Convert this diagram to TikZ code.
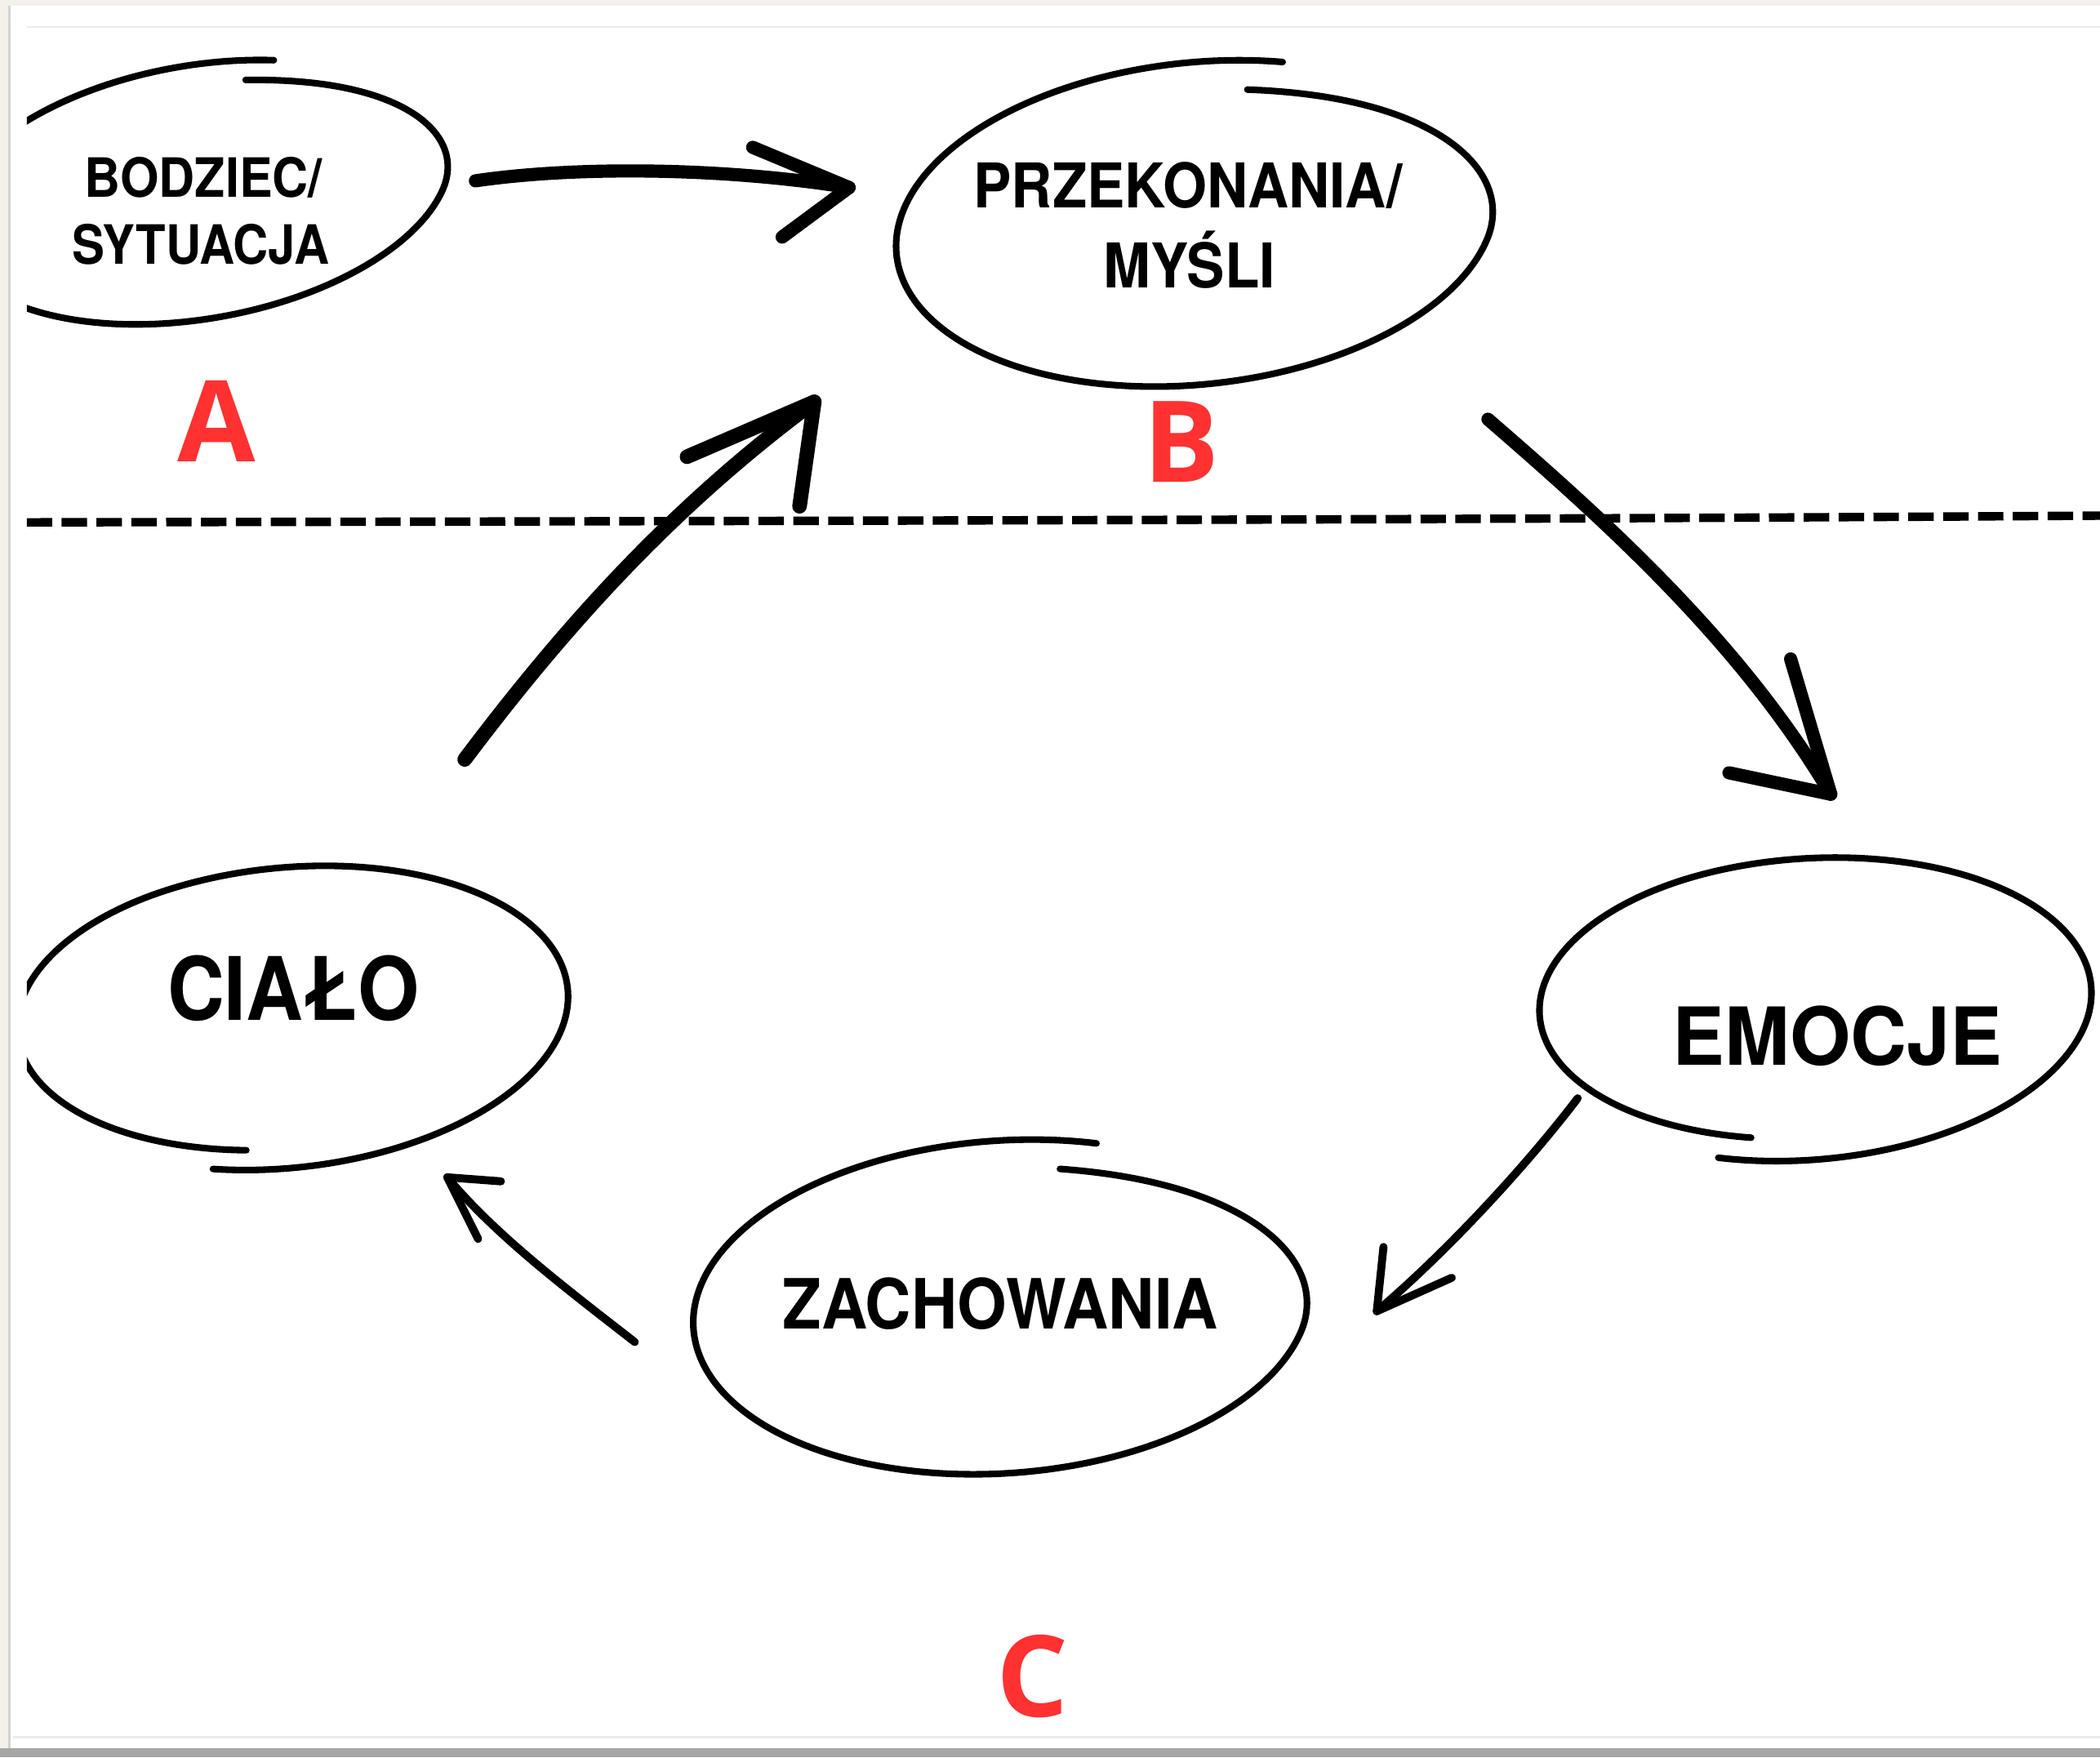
\documentclass[tikz,border=0pt]{standalone}
\usepackage{fontspec}
\newfontfamily\dinf{TeX Gyre Heros}[FakeStretch=0.92]
\newfontfamily\redf{Open Sans}
\usetikzlibrary{calc}
\definecolor{redc}{RGB}{255,49,49}
\definecolor{paper}{RGB}{244,241,234}

% hand-drawn loop: cx, cy, rx, ry, rotation, t0, t1, f0, f1
\newcommand{\handell}[9]{%
  \begin{scope}[declare function={
      hs(\u)=(min(1,max(0,\u)))^2*(3-2*min(1,max(0,\u)));
      ff(\s)=1+((#8)-1)*(1-hs(\s/0.25))+((#9)-1)*hs((\s-0.6)/0.4);
      tt(\s)=(#6)+\s*((#7)-(#6));}]
    \draw[ellstroke] plot[domain=0:1, samples=240, smooth, variable=\s]
      ({#1+(#3)*ff(\s)*cos(tt(\s))*cos(#5)-(#4)*ff(\s)*sin(tt(\s))*sin(#5)},
       {#2-(#3)*ff(\s)*cos(tt(\s))*sin(#5)-(#4)*ff(\s)*sin(tt(\s))*cos(#5)});
  \end{scope}}

\tikzset{
  ellstroke/.style={line width=1.4pt, line cap=round, line join=round},
  lbl/.style={anchor=base, inner sep=0pt},
  redlbl/.style={anchor=base, inner sep=0pt, text=redc, font=\redf\bfseries\fontsize{24}{24}\selectfont},
  thickarrow/.style={line width=2.8pt, line cap=round, line join=round},
  thinarrow/.style={line width=1.7pt, line cap=round, line join=round},
  dashline/.style={line width=1.8pt, dash pattern=on 0.19cm off 0.07cm},
}

\begin{document}
\begin{tikzpicture}[x=0.01cm, y=-0.01cm]
\useasboundingbox (0,0) rectangle (1568,1312);
% page frame
\fill[paper] (0,0) rectangle (1568,1312);
\fill[white] (7,4) rectangle (1568,1305);
\fill[gray!70] (0,1305) rectangle (1568,1312);
\draw[gray!35, line width=0.6pt] (7,4) -- (7,1305);
\draw[black!8, line width=0.4pt] (20,20) -- (1568,20);
\draw[black!8, line width=0.4pt] (10,1297) -- (1568,1297);

% dashed separator
\coordinate (dl) at (20,390);
\coordinate (dr) at (1568,385);
\draw[dashline] (dl) .. controls (600,389) and (1100,388) .. (dr);

% hand-drawn ellipses
\begin{scope}
  \clip (20,0) rectangle (1568,1312);
  \handell{148}{143}{190}{95}{10}{72}{-293}{0.84}{0.99}
  \handell{893}{168}{224}{119}{6}{75}{-290}{0.84}{1.02}
  \handell{1350}{752}{212}{111}{4}{-110}{255}{1.03}{0.88}
  \handell{748}{977}{230}{123}{4}{75}{-290}{0.85}{1.02}
  \handell{213}{760}{212}{112}{6}{-108}{258}{1.0}{0.87}
\end{scope}

% texts
\node[lbl, font=\dinf\bfseries\fontsize{11.5}{11.5}\selectfont] (bod1) at (152,147) {BODZIEC/};
\node[lbl, font=\dinf\bfseries\fontsize{11.5}{11.5}\selectfont] (bod2) at (150,197) {\scalebox{0.98}[1]{SYTUACJA}};
\node[lbl, font=\dinf\bfseries\fontsize{13.1}{13.1}\selectfont] (prz1) at (887,155) {PRZEKONANIA/};
\node[lbl, font=\dinf\bfseries\fontsize{13.1}{13.1}\selectfont] (prz2) at (888,215) {MYŚLI};
\node[lbl, font=\dinf\bfseries\fontsize{17}{17}\selectfont] (emo) at (1372,795) {\scalebox{1.06}[1]{EMOCJE}};
\node[lbl, font=\dinf\bfseries\fontsize{14.7}{14.7}\selectfont] (zach) at (747,992) {ZACHOWANIA};
\node[lbl, font=\dinf\bfseries\fontsize{18.6}{18.6}\selectfont] (cialo) at (219,762) {\scalebox{0.98}[1]{CIAŁO}};

\node[redlbl] (la) at (162,345) {A};
\node[redlbl] (lb) at (882,360) {B};
\node[redlbl] (lc) at (771,1282) {C};

% arrow end points
\coordinate (ab0) at (355,135);  \coordinate (ab1) at (634,140);
\coordinate (be0) at (1111,313); \coordinate (be1) at (1367,593);
\coordinate (cb0) at (347,567);  \coordinate (cb1) at (608,300);
\coordinate (ez0) at (1178,820); \coordinate (ez1) at (1028,979);
\coordinate (zc0) at (474,1002); \coordinate (zc1) at (334,879);

% A -> B
\draw[thickarrow] (ab0) .. controls (430,124) and (540,125) .. (ab1);
\draw[thickarrow] (562,110) -- (ab1) -- (584,177);
% B -> EMOCJE
\draw[thickarrow] (be0) .. controls (1200,390) and (1300,480) .. (be1);
\draw[thickarrow] (1337,492) -- (be1) -- (1291,577);
% CIALO -> B
\draw[thickarrow, line width=3.1pt] (cb0) .. controls (420,470) and (500,380) .. (cb1);
\draw[thickarrow, line width=3.1pt] (513,341) -- (cb1) -- (597,378);
% EMOCJE -> ZACHOWANIA
\draw[thinarrow] (ez0) .. controls (1140,870) and (1080,935) .. (ez1);
\draw[thinarrow] (1033,931) -- (ez1) -- (1084,954);
% ZACHOWANIA -> CIALO
\draw[thinarrow] (zc0) .. controls (420,960) and (370,922) .. (zc1);
\draw[thinarrow] (374,882) -- (zc1) -- (357,925);
\end{tikzpicture}
\end{document}
